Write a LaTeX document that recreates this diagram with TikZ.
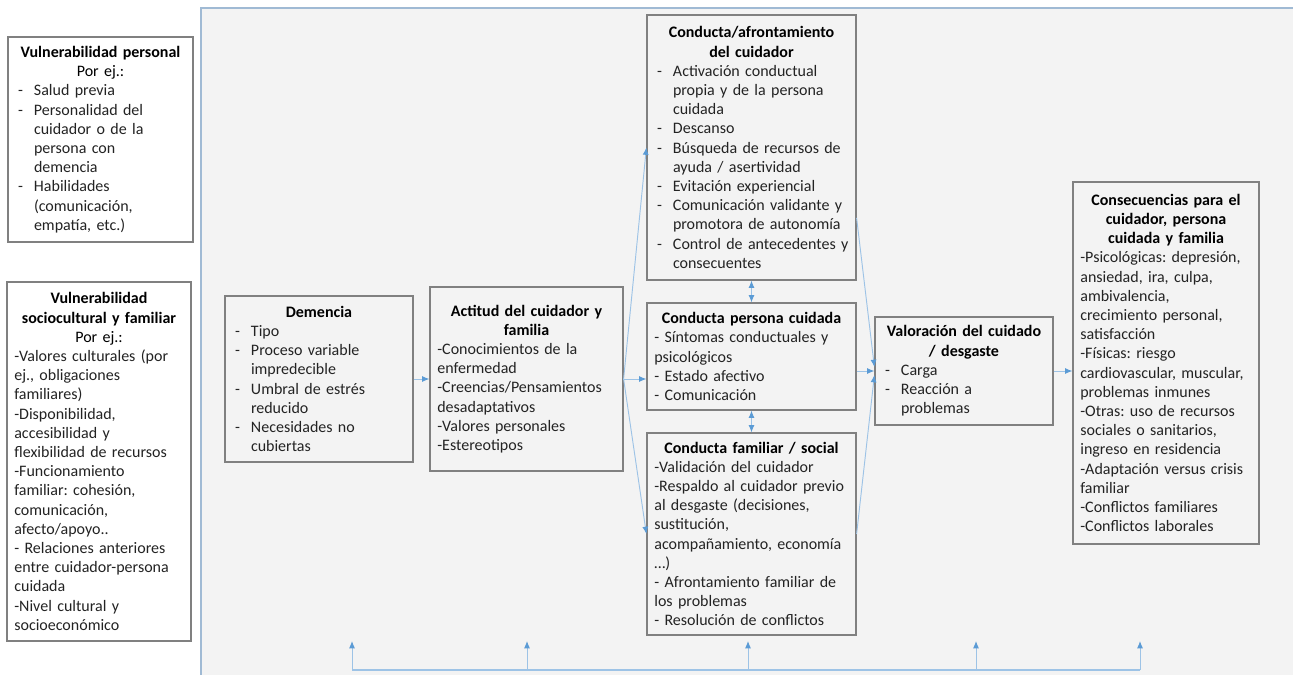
\documentclass[tikz,border=0pt]{standalone}
\usepackage{fontspec}
\setmainfont{Carlito}
\usetikzlibrary{arrows.meta}

\definecolor{framec}{RGB}{160,186,212}
\definecolor{panelc}{RGB}{243,243,243}
\definecolor{boxc}{RGB}{128,128,128}
\definecolor{linec}{RGB}{157,195,230}
\definecolor{tipc}{RGB}{91,155,213}
\definecolor{txtc}{RGB}{35,35,35}

% title line and hanging item inside a box
\newcommand{\ttl}[1]{{\centering\bfseries\color{black}#1\par}}
\newcommand{\itm}[1]{\par\hangindent=14pt\hangafter=1\noindent
  \makebox[14pt][l]{\hspace{2pt}-}#1\par}

\begin{document}
\frenchspacing
\begin{tikzpicture}[
  x=0.75pt,y=-0.75pt,
  >={Latex[length=5.5pt,width=4.5pt,color=tipc]},
  font=\fontsize{12}{14.4}\selectfont\frenchspacing,
  box/.style 2 args={draw=boxc,line width=0.9pt,fill=panelc,text=txtc,
    align=left,inner xsep=5.5pt,inner ysep=0pt,
    minimum width=#1*0.75pt,minimum height=#2*0.75pt,
    text width={#1*0.75pt-11pt}},
  sidebox/.style 2 args={box={#1}{#2},fill=white},
  flow/.style={->,linec,line width=0.7pt},
  twoway/.style={<->,linec,line width=0.7pt},
  loopline/.style={linec,line width=0.9pt}]

  \useasboundingbox (0,0) rectangle (1293,675);

  % ---- panel ----
  \draw[framec,line width=1.8pt,fill=panelc] (201,8) rectangle (1300,690);

  % ---- outside factors ----
  \node[sidebox={185}{205}] (vp) at (100.5,139.5) {%
    \ttl{Vulnerabilidad personal\\\mdseries Por ej.:}
    \itm{Salud previa}
    \itm{Personalidad del\newline cuidador o de la\newline persona con\newline demencia}
    \itm{Habilidades\newline (comunicación,\newline empatía, etc.)}};
  \node[sidebox={184}{359}] (vs) at (99,461.5) {%
    \ttl{Vulnerabilidad\\sociocultural y familiar\\\mdseries Por ej.:}
    -Valores culturales (por\\ej., obligaciones\\familiares)\\
    -Disponibilidad,\\accesibilidad y\\flexibilidad de recursos\\
    -Funcionamiento\\familiar: cohesión,\\comunicación,\\afecto/apoyo..\\
    - Relaciones anteriores\\entre cuidador-persona\\cuidada\\
    -Nivel cultural y\\socioeconómico};

  % ---- main chain ----
  \node[box={188}{166}] (dem) at (319,379) {%
    \ttl{Demencia}
    \itm{Tipo}
    \itm{Proceso variable\newline impredecible}
    \itm{Umbral de estrés\newline reducido}
    \itm{Necesidades no\newline cubiertas}};
  \node[box={193}{184}] (act) at (526.5,379) {%
    \ttl{Actitud del cuidador y\\familia}
    -Conocimientos de la\\enfermedad\\
    -Creencias/Pensamientos\\desadaptativos\\
    -Valores personales\\
    -Estereotipos};
  \node[box={209}{265}] (ca) at (751.5,147.5) {%
    \ttl{Conducta/afrontamiento\\del cuidador}
    \itm{Activación conductual\newline propia y de la persona\newline cuidada}
    \itm{Descanso}
    \itm{Búsqueda de recursos de\newline ayuda / asertividad}
    \itm{Evitación experiencial}
    \itm{Comunicación validante~y\newline promotora de autonomía}
    \itm{Control de antecedentes~y\newline consecuentes}};
  \node[box={209}{107}] (cpc) at (751.5,356.5) {%
    \ttl{Conducta persona cuidada}
    - Síntomas conductuales y\\psicológicos\\
    - Estado afectivo\\
    - Comunicación};
  \node[box={209}{202}] (cfs) at (751.5,534) {%
    \ttl{Conducta familiar / social}
    -Validación del cuidador\\
    -Respaldo al cuidador previo\\al desgaste (decisiones,\\sustitución,\\acompañamiento, economía\\…)\\
    - Afrontamiento familiar de\\los problemas\\
    - Resolución de conflictos};
  \node[box={178}{108}] (val) at (964,371) {%
    \ttl{Valoración del cuidado\\/ desgaste}
    \itm{Carga}
    \itm{Reacción a\newline problemas}};
  \node[box={186}{362}] (cons) at (1166,363) {%
    \ttl{Consecuencias para el\\cuidador, persona\\cuidada y familia}
    -Psicológicas: depresión,\\ansiedad, ira, culpa,\\ambivalencia,\\crecimiento personal,\\satisfacción\\
    -Físicas: riesgo\\cardiovascular, muscular,\\problemas inmunes\\
    -Otras: uso de recursos\\sociales o sanitarios,\\ingreso en residencia\\
    -Adaptación versus crisis\\familiar\\
    -Conflictos familiares\\
    -Conflictos laborales};

  % ---- flows ----
  \draw[flow] (dem.east) -- (act.west);
  \draw[flow] (act.east) -- (ca.west);
  \draw[flow] (act.east) -- (act.east -| cpc.west);
  \draw[flow] (act.east) -- (cfs.west);
  \draw[twoway] (ca.south) -- (cpc.north);
  \draw[twoway] (cpc.south) -- (cfs.north);
  \draw[flow] ([yshift=47pt]ca.south east) -- ([yshift=3pt]val.west);
  \draw[flow] (cpc.east |- val.west) -- (val.west);
  \draw[flow] (cfs.east) -- ([yshift=-3pt]val.west);
  \draw[flow] (val.east) -- (val.east -| cons.west);

  % ---- feedback along the bottom ----
  \coordinate (fb1) at (352,670);
  \coordinate (fb2) at (527,670);
  \coordinate (fb3) at (748,670);
  \coordinate (fb4) at (976,670);
  \coordinate (fb5) at (1140,670);
  \draw[loopline] (fb1) -- (fb5);
  \draw[flow] (fb1) -- ++(0,-29);
  \draw[flow] (fb2) -- ++(0,-29);
  \draw[flow] (fb3) -- ++(0,-29);
  \draw[flow] (fb4) -- ++(0,-29);
  \draw[flow] (fb5) -- ++(0,-29);
\end{tikzpicture}
\end{document}
